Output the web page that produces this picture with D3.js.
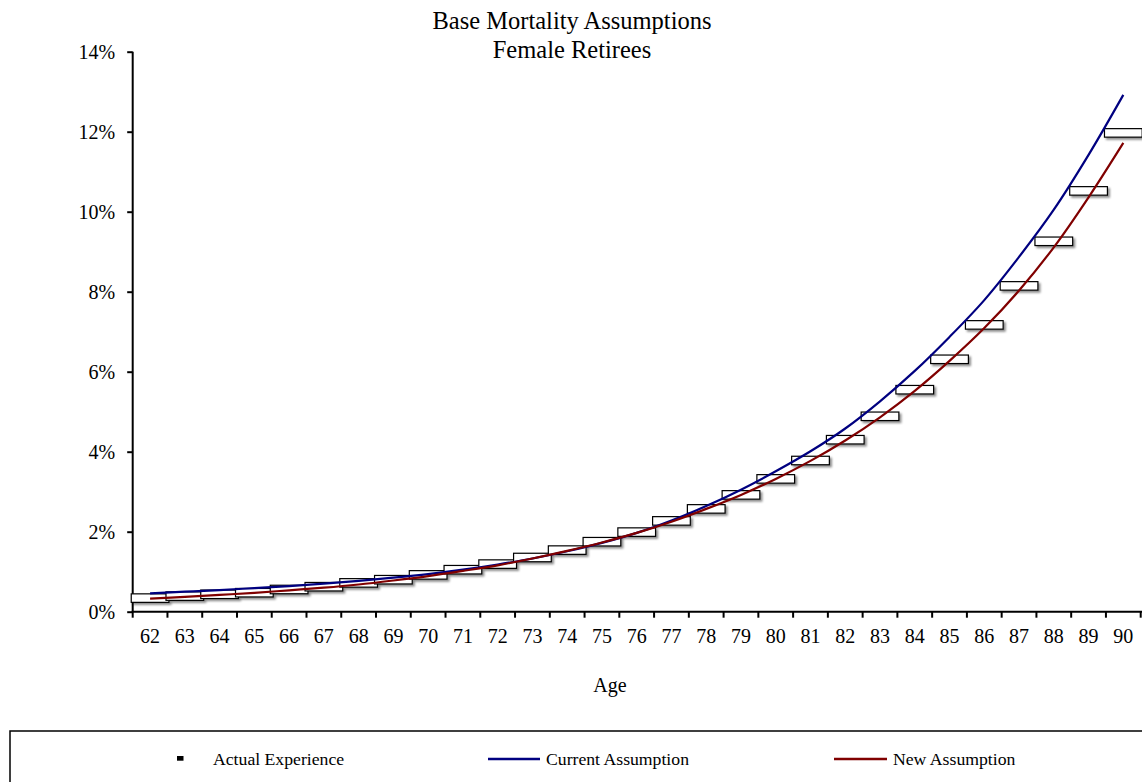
<!DOCTYPE html>
<html>
<head>
<meta charset="utf-8">
<script src="https://cdn.jsdelivr.net/npm/d3@7"></script>
<style>
  html, body { margin: 0; padding: 0; background: #ffffff; }
  svg { display: block; }
  text { font-family: "Liberation Serif", "Times New Roman", serif; fill: #000; }
</style>
</head>
<body>
<svg id="chart" width="1142" height="782"></svg>
<script>
// Ages on the category axis
const ages = [62, 63, 64, 65, 66, 67, 68, 69, 70, 71, 72, 73, 74, 75, 76,
              77, 78, 79, 80, 81, 82, 83, 84, 85, 86, 87, 88, 89, 90];

// Mortality rates in percent, one per age
const actualExperience = [0.34, 0.39, 0.435, 0.475, 0.555, 0.625, 0.72, 0.80, 0.92, 1.05,
                          1.19, 1.355, 1.54, 1.75, 1.99, 2.27, 2.57, 2.92, 3.32, 3.78,
                          4.30, 4.885, 5.55, 6.31, 7.17, 8.145, 9.26, 10.52, 11.97];
const currentAssumption = [0.46, 0.50, 0.54, 0.59, 0.64, 0.70, 0.77, 0.85, 0.94, 1.05,
                           1.18, 1.33, 1.51, 1.72, 1.97, 2.28, 2.64, 3.05, 3.51, 4.01,
                           4.58, 5.26, 6.02, 6.87, 7.79, 8.87, 10.05, 11.42, 12.92];
const newAssumption = [0.325, 0.37, 0.42, 0.47, 0.535, 0.60, 0.68, 0.78, 0.89, 1.02,
                       1.16, 1.33, 1.52, 1.73, 1.97, 2.25, 2.57, 2.92, 3.32, 3.77,
                       4.28, 4.86, 5.52, 6.27, 7.09, 8.03, 9.11, 10.36, 11.72];

const yTicks = [0, 2, 4, 6, 8, 10, 12, 14];

const titleLines = ["Base Mortality Assumptions", "Female Retirees"];
const xTitle = "Age";
const legendItems = [
  { label: "Actual Experience", type: "marker" },
  { label: "Current Assumption", type: "line", color: "#000080" },
  { label: "New Assumption", type: "line", color: "#800000" }
];

const svg = d3.select("#chart");

const plot = { left: 132.7, right: 1140.7, top: 51.7, bottom: 611.7 };

const x = d3.scaleBand().domain(ages).range([plot.left, plot.right]).padding(0);
const y = d3.scaleLinear().domain([0, 14]).range([plot.bottom, plot.top]);

// Soft shadow under the experience boxes
const defs = svg.append("defs");
const shadow = defs.append("filter").attr("id", "boxShadow")
  .attr("x", "-20%").attr("y", "-60%").attr("width", "150%").attr("height", "250%");
shadow.append("feDropShadow")
  .attr("dx", 2).attr("dy", 2).attr("stdDeviation", 1.3)
  .attr("flood-color", "#000").attr("flood-opacity", 0.45);

// Title
svg.append("g").selectAll("text").data(titleLines).join("text")
  .attr("x", 572)
  .attr("y", (d, i) => 28.5 + i * 29.5)
  .attr("text-anchor", "middle")
  .attr("font-size", "24.5px")
  .text(d => d);

// Y axis
const yAxis = d3.axisLeft(y)
  .tickValues(yTicks)
  .tickFormat(d => d + "%")
  .tickSize(5.5)
  .tickPadding(12);
const gy = svg.append("g")
  .attr("transform", `translate(${plot.left},0)`)
  .call(yAxis);
gy.select(".domain").attr("stroke", "#000").attr("stroke-width", 2).attr("d",
  `M0,${plot.top}V${plot.bottom}`);
gy.selectAll(".tick line").attr("stroke", "#000").attr("stroke-width", 2);
gy.selectAll(".tick text")
  .attr("font-size", "20px")
  .attr("font-family", "Liberation Serif, Times New Roman, serif")
  .attr("dy", "0.36em");

// X axis: labels centred in each category, ticks between categories
const xAxis = d3.axisBottom(x).tickSize(0).tickPadding(0);
const gx = svg.append("g")
  .attr("transform", `translate(0,${plot.bottom})`)
  .call(xAxis);
gx.select(".domain").remove();
gx.selectAll(".tick text")
  .attr("font-size", "20px")
  .attr("font-family", "Liberation Serif, Times New Roman, serif")
  .attr("y", 31.5)
  .attr("dy", 0);
gx.append("line")
  .attr("x1", plot.left - 1).attr("x2", 1142)
  .attr("y1", 0).attr("y2", 0)
  .attr("stroke", "#000").attr("stroke-width", 2);
const boundaries = ages.map(a => x(a)).concat([x(ages[ages.length - 1]) + x.bandwidth()]);
gx.selectAll("line.cat-tick").data(boundaries).join("line")
  .attr("class", "cat-tick")
  .attr("x1", d => d).attr("x2", d => d)
  .attr("y1", 0).attr("y2", 6)
  .attr("stroke", "#000").attr("stroke-width", 2);

// Axis title
svg.append("text")
  .attr("x", 610).attr("y", 691.5)
  .attr("text-anchor", "middle")
  .attr("font-size", "20px")
  .text(xTitle);

// Actual experience boxes
const boxW = 37.7, boxH = 8.5;
svg.append("g").attr("filter", "url(#boxShadow)")
  .selectAll("rect").data(ages).join("rect")
  .attr("x", (d) => x(d) + x.bandwidth() / 2 - boxW / 2)
  .attr("y", (d, i) => y(actualExperience[i]) - boxH / 2)
  .attr("width", boxW).attr("height", boxH)
  .attr("fill", "#ffffff")
  .attr("stroke", "#000").attr("stroke-width", 1.2);

// Assumption curves
const line = d3.line()
  .x(d => x(d[0]) + x.bandwidth() / 2)
  .y(d => y(d[1]))
  .curve(d3.curveCatmullRom.alpha(0.5));

svg.append("path")
  .datum(ages.map((a, i) => [a, currentAssumption[i]]))
  .attr("d", line)
  .attr("fill", "none").attr("stroke", "#000080").attr("stroke-width", 2.2);

svg.append("path")
  .datum(ages.map((a, i) => [a, newAssumption[i]]))
  .attr("d", line)
  .attr("fill", "none").attr("stroke", "#800000").attr("stroke-width", 2.2);

// Legend
const legend = svg.append("g");
legend.append("rect")
  .attr("x", 10).attr("y", 731)
  .attr("width", 1140).attr("height", 70)
  .attr("fill", "#fff").attr("stroke", "#000").attr("stroke-width", 1.5);

const legendPos = [
  { sx: 177, tx: 213 },
  { sx: 488, ex: 540, tx: 546 },
  { sx: 834, ex: 887, tx: 893 }
];
legendItems.forEach((item, i) => {
  const p = legendPos[i];
  if (item.type === "marker") {
    legend.append("rect")
      .attr("x", p.sx).attr("y", 756)
      .attr("width", 6.5).attr("height", 4.7)
      .attr("fill", "#000");
  } else {
    legend.append("line")
      .attr("x1", p.sx).attr("x2", p.ex)
      .attr("y1", 759).attr("y2", 759)
      .attr("stroke", item.color).attr("stroke-width", 2.3);
  }
  legend.append("text")
    .attr("x", p.tx).attr("y", 765)
    .attr("font-size", "17.7px")
    .text(item.label);
});
</script>
</body>
</html>
